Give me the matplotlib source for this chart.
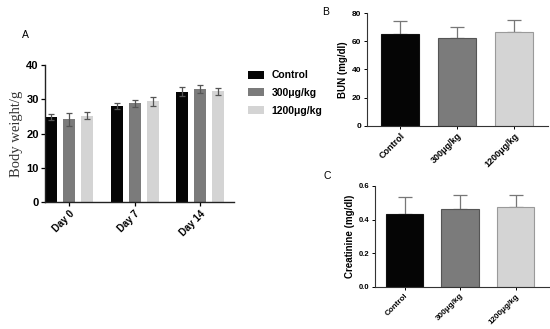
import numpy as np
import matplotlib
matplotlib.use("Agg")
import matplotlib.pyplot as plt
from matplotlib.patches import Patch

plt.rcParams["font.family"] = ["Liberation Sans", "DejaVu Sans"]

groups = ["Control", "300μg/kg", "1200μg/kg"]
days = ["Day 0", "Day 7", "Day 14"]
colors = ["#050505", "#7b7b7b", "#d4d4d4"]
edges = ["#111111", "#555555", "#9a9a9a"]

# panel A: body weight per day, per group
bw_mean = [[24.8, 28.1, 32.2],
           [24.2, 28.8, 33.0],
           [25.2, 29.4, 32.3]]
bw_err = [[1.0, 0.8, 1.3],
          [1.9, 1.1, 1.2],
          [1.1, 1.3, 1.1]]

# panel B: BUN
bun_mean = [65.5, 62.5, 66.5]
bun_err = [9.0, 7.5, 8.5]

# panel C: creatinine
cre_mean = [0.435, 0.462, 0.472]
cre_err = [0.10, 0.081, 0.076]

fig = plt.figure(figsize=(5.5, 3.29), dpi=100)

# ---- A
axA = fig.add_axes([0.0818, 0.386, 0.3436, 0.4164])
x = np.arange(len(days))
w = 0.185
for i in range(3):
    axA.bar(x + (i - 1) * 0.275, bw_mean[i], w, color=colors[i], zorder=2)
    axA.errorbar(x + (i - 1) * 0.275, bw_mean[i], yerr=bw_err[i], fmt="none",
                 ecolor="#555555", elinewidth=0.9, capsize=2.2, capthick=0.9, zorder=3)
axA.set_xlim(-0.37, 2.52)
axA.set_ylim(0, 40)
axA.set_yticks([0, 10, 20, 30, 40])
axA.set_xticks(x)
axA.set_xticklabels(days, rotation=45, ha="right", rotation_mode="anchor",
                    fontsize=7, fontweight="bold")
for lab in axA.get_yticklabels():
    lab.set_fontsize(8)
    lab.set_fontweight("bold")
axA.set_ylabel("Body weight/g", family="Liberation Serif", fontsize=10.5,
               color="#333333", labelpad=2)
for s in ["top", "right"]:
    axA.spines[s].set_visible(False)
for s in ["left", "bottom"]:
    axA.spines[s].set_color("#222222")
    axA.spines[s].set_linewidth(1.0)
axA.tick_params(axis="both", length=3, width=0.9, pad=1.5)

handles = [Patch(facecolor=c, edgecolor="none") for c in colors]
fig.legend(handles, groups, loc="upper left", bbox_to_anchor=(0.433, 0.815),
           frameon=False, prop={"size": 7.5, "weight": "bold"},
           handlelength=1.6, handleheight=0.8, handletextpad=0.7, labelspacing=0.75)

fig.text(0.04, 0.885, "A", fontsize=7.5)

# ---- B
axB = fig.add_axes([0.667, 0.618, 0.329, 0.3416])
xb = np.arange(3)
axB.bar(xb, bun_mean, 0.66, color=colors, edgecolor=edges, linewidth=0.8, zorder=2)
for i in range(3):
    axB.errorbar(xb[i], bun_mean[i], yerr=[[0], [bun_err[i]]], fmt="none",
                 ecolor="#777777", elinewidth=0.9, capsize=5, capthick=0.9, zorder=1)
axB.set_xlim(-0.58, 2.59)
axB.set_ylim(0, 80)
axB.set_yticks([0, 20, 40, 60, 80])
axB.set_xticks(xb)
axB.set_xticklabels(groups, rotation=45, ha="right",
                    rotation_mode="anchor", fontsize=6.5, fontweight="bold")
for lab in axB.get_yticklabels():
    lab.set_fontsize(6)
    lab.set_fontweight("bold")
axB.set_ylabel("BUN (mg/dl)", fontsize=7, fontweight="bold", labelpad=3)
for s in ["top", "right"]:
    axB.spines[s].set_visible(False)
for s in ["left", "bottom"]:
    axB.spines[s].set_color("#333333")
    axB.spines[s].set_linewidth(0.8)
axB.tick_params(axis="both", length=2.5, width=0.7, pad=1.5)
fig.text(0.585, 0.955, "B", fontsize=7.5)

# ---- C
axC = fig.add_axes([0.682, 0.128, 0.318, 0.307])
axC.bar(xb, cre_mean, 0.67, color=colors, edgecolor=edges, linewidth=0.8, zorder=2)
for i in range(3):
    axC.errorbar(xb[i], cre_mean[i], yerr=[[0], [cre_err[i]]], fmt="none",
                 ecolor="#777777", elinewidth=0.9, capsize=5, capthick=0.9, zorder=1)
axC.set_xlim(-0.53, 2.62)
axC.set_ylim(0, 0.6)
axC.set_yticks([0.0, 0.2, 0.4, 0.6])
axC.set_yticklabels(["0.0", "0.2", "0.4", "0.6"])
axC.set_xticks(xb)
axC.set_xticklabels(groups, rotation=45, ha="right",
                    rotation_mode="anchor", fontsize=5.8, fontweight="bold")
for lab in axC.get_yticklabels():
    lab.set_fontsize(5.5)
    lab.set_fontweight("bold")
axC.set_ylabel("Creatinine (mg/dl)", fontsize=7, fontweight="bold", labelpad=3)
for s in ["top", "right"]:
    axC.spines[s].set_visible(False)
for s in ["left", "bottom"]:
    axC.spines[s].set_color("#333333")
    axC.spines[s].set_linewidth(0.8)
axC.tick_params(axis="both", length=2.5, width=0.7, pad=1.5)
fig.text(0.588, 0.455, "C", fontsize=7.5)

fig.savefig("out.png", dpi=100)
